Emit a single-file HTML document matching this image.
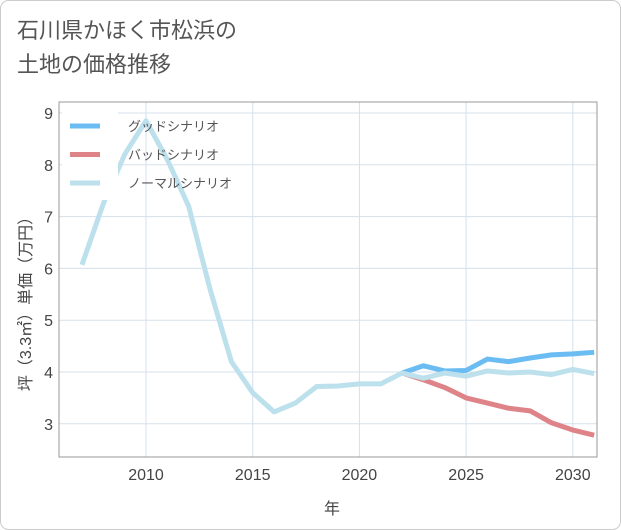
<!DOCTYPE html>
<html><head><meta charset="utf-8"><style>
body{margin:0;background:#fff;font-family:"Liberation Sans","Noto Sans CJK JP",sans-serif;}
#wrap{position:relative;width:621px;height:530px;}
#title{position:absolute;left:17px;top:14px;font-size:22px;line-height:34px;color:#555;}
</style></head><body>
<div id="wrap">
<div id="title">石川県かほく市松浜の<br>土地の価格推移</div>
<svg id="c" width="621" height="530" style="position:absolute;left:0;top:0"></svg>
</div>
<script>
const years=[2007,2008,2009,2010,2011,2012,2013,2014,2015,2016,2017,2018,2019,2020,2021,2022,2023,2024,2025,2026,2027,2028,2029,2030,2031];
const normal=[6.07,7.25,8.2,8.85,8.1,7.2,5.6,4.2,3.6,3.23,3.4,3.72,3.73,3.77,3.77,3.98,3.88,3.98,3.92,4.02,3.98,4.0,3.95,4.05,3.97];
const goodYears=[2022,2023,2024,2025,2026,2027,2028,2029,2030,2031];
const good=[3.98,4.12,4.02,4.03,4.25,4.2,4.27,4.33,4.35,4.38];
const badYears=[2022,2023,2024,2025,2026,2027,2028,2029,2030,2031];
const bad=[3.98,3.85,3.7,3.5,3.4,3.3,3.25,3.02,2.88,2.78];
const xTicks=[2010,2015,2020,2025,2030];
const yTicks=[3,4,5,6,7,8,9];
const L=59,R=597,T=102,B=457;
const x=v=>146+(v-2010)*21.34;
const y=v=>113+(9-v)*51.8;
const svg=document.getElementById('c');const NS='http://www.w3.org/2000/svg';
function mk(t,a,p){const e=document.createElementNS(NS,t);for(const k in a)e.setAttribute(k,a[k]);(p||svg).appendChild(e);return e;}
mk('rect',{x:0.5,y:0.5,width:620,height:529,rx:8,fill:'none',stroke:'#ccc'});
xTicks.forEach(t=>{const l=mk('line',{x1:x(t),x2:x(t),y1:T,y2:B,stroke:'#d5e1ec'});
const tx=mk('text',{x:x(t),y:480,'text-anchor':'middle','font-size':16,fill:'#444'});tx.textContent=t;});
yTicks.forEach(t=>{const l=mk('line',{x1:L,x2:R,y1:y(t),y2:y(t),stroke:'#d5e1ec'});
const tx=mk('text',{x:53,y:y(t)+6,'text-anchor':'end','font-size':16,fill:'#444'});tx.textContent=t;});
mk('rect',{x:L,y:T,width:R-L,height:B-T,fill:'none',stroke:'#999'});
function line(xs,vs,c,n){const p=mk('polyline',{points:xs.map((v,i)=>x(v)+','+y(vs[i])).join(' '),fill:'none',stroke:c,'stroke-width':5,'stroke-linejoin':'round'});}
line(goodYears,good,'#6bbcf2','good-scenario-line');
line(badYears,bad,'#de8489','bad-scenario-line');
line(years,normal,'#bde0ed','normal-scenario-line');
mk('rect',{x:62,y:112,width:56,height:88,fill:'#fff'});
[['グッドシナリオ','#6bbcf2'],['バッドシナリオ','#de8489'],['ノーマルシナリオ','#bde0ed']].forEach((d,i)=>{const yy=126+i*28.5;
const l=mk('line',{x1:70,x2:100,y1:yy,y2:yy,stroke:d[1],'stroke-width':5});
const t=mk('text',{x:128,y:yy+5,'font-size':13,fill:'#555'});t.textContent=d[0];});
const xt=mk('text',{x:332,y:514,'text-anchor':'middle','font-size':16,fill:'#444'});xt.textContent='年';
const yt=mk('text',{x:0,y:0,'text-anchor':'middle','font-size':16,fill:'#444',transform:'translate(31,300) rotate(-90)'});yt.textContent='坪（3.3㎡）単価（万円）';
</script>
</body></html>
